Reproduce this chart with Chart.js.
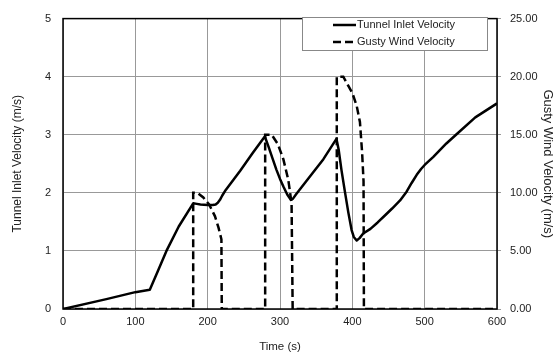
<!DOCTYPE html>
<html>
<head>
<meta charset="utf-8">
<script src="https://cdn.jsdelivr.net/npm/chart.js@4"></script>
<style>
  html, body { margin: 0; padding: 0; background: #fff; }
  #wrap { width: 560px; height: 354px; }
</style>
</head>
<body>
<div id="wrap"><canvas id="lineChart"></canvas></div>
<script>
// time (s) and tunnel inlet velocity (m/s)
var inletTime = [0, 60, 100, 120, 130, 143, 160, 180, 185, 190, 200, 207, 211, 214, 217, 220, 225, 245, 262, 279,
    284, 290, 295, 300, 305, 310, 315, 318, 322, 340, 360, 378,
    381, 385, 390, 394.5, 399, 402, 406, 410, 415, 425, 435, 445, 455, 466, 475, 482, 489, 495, 500, 512, 530, 546, 570, 600];
var inletVel = [0, 0.17, 0.29, 0.33, 0.62, 1.0, 1.42, 1.82, 1.81, 1.80, 1.79, 1.79, 1.80, 1.83, 1.88, 1.95, 2.05, 2.38, 2.68, 2.97,
    2.80, 2.58, 2.40, 2.24, 2.10, 1.97, 1.88, 1.90, 1.97, 2.26, 2.58, 2.93,
    2.75, 2.39, 2.00, 1.66, 1.36, 1.24, 1.18, 1.22, 1.30, 1.38, 1.49, 1.61, 1.73, 1.87, 2.02, 2.17, 2.31, 2.41, 2.48, 2.62, 2.85, 3.03, 3.30, 3.54];

// gusty wind velocity (m/s) on the right axis
var gustTime = [0, 180, 180, 186, 194, 202, 210, 215, 219, 219.5, 279.5, 279.5, 288.5, 297, 304.6, 311.5, 316, 317.5, 378.5, 378.5, 387.5, 394.5, 400, 406, 410.5, 413.5, 415.5, 416, 600];
var gustVel = [0, 0, 10, 10, 9.6, 9.0, 8.0, 7.0, 6.0, 0, 0, 15, 15, 14.2, 12.9, 11.1, 9.1, 0, 0, 20, 20, 19.2, 18.6, 17.5, 16.1, 13.5, 11, 0, 0];

var seriesNames = ['Tunnel Inlet Velocity', 'Gusty Wind Velocity'];

function pairs(xs, ys) {
    return xs.map(function(x, i) { return { x: x, y: ys[i] }; });
}

var FONT = 'Liberation Sans, Arial, sans-serif';

// frame round the plot plus the boxed legend in the top right corner
var framePlugin = {
    id: 'frame',
    afterDraw: function(chart) {
        var ctx = chart.ctx, a = chart.chartArea;
        ctx.save();
        ctx.strokeStyle = '#000';
        ctx.lineWidth = 1.5;
        ctx.strokeRect(a.left, a.top, a.right - a.left, a.bottom - a.top);

        var bx = 302, by = 17, bw = 185, bh = 33;
        ctx.fillStyle = '#fff';
        ctx.fillRect(bx, by, bw, bh);
        ctx.strokeStyle = '#888';
        ctx.lineWidth = 1;
        ctx.strokeRect(bx + 0.5, by + 0.5, bw, bh);

        ctx.font = '11px ' + FONT;
        ctx.fillStyle = '#222';
        ctx.textBaseline = 'middle';
        chart.data.datasets.forEach(function(ds, i) {
            var ly = by + 8 + i * 17;
            ctx.strokeStyle = '#000';
            ctx.lineWidth = 2.5;
            ctx.setLineDash(ds.borderDash || []);
            ctx.beginPath();
            ctx.moveTo(333, ly);
            ctx.lineTo(356, ly);
            ctx.stroke();
            ctx.setLineDash([]);
            ctx.fillText(ds.label, 357, ly);
        });
        ctx.restore();
    }
};

var ctx = document.getElementById('lineChart').getContext('2d');
var chart = new Chart(ctx, {
    type: 'line',
    data: {
        datasets: [
            {
                label: seriesNames[0],
                data: pairs(inletTime, inletVel),
                borderColor: '#000',
                borderWidth: 2.5,
                pointRadius: 0,
                tension: 0,
                borderJoinStyle: 'round',
                yAxisID: 'y'
            },
            {
                label: seriesNames[1],
                data: pairs(gustTime, gustVel),
                borderColor: '#000',
                borderWidth: 2.5,
                borderDash: [8, 4],
                pointRadius: 0,
                tension: 0,
                yAxisID: 'y2'
            }
        ]
    },
    options: {
        responsive: true,
        maintainAspectRatio: false,
        animation: false,
        layout: { padding: { top: 11 } },
        plugins: {
            legend: { display: false },
            tooltip: { enabled: false }
        },
        scales: {
            x: {
                type: 'linear',
                min: 0,
                max: 600,
                ticks: { stepSize: 100, color: '#222', font: { family: FONT, size: 11 }, padding: 6 },
                grid: { color: '#999', lineWidth: 1, drawTicks: false },
                border: { display: false },
                title: { display: true, text: 'Time (s)', color: '#222', font: { family: FONT, size: 11.5 }, padding: { top: 3, bottom: 0 } },
                afterFit: function(s) { s.height = 45; }
            },
            y: {
                min: 0,
                max: 5,
                ticks: { stepSize: 1, color: '#222', font: { family: FONT, size: 11 }, padding: 12 },
                grid: { color: '#999', lineWidth: 1, drawTicks: false },
                border: { display: false },
                title: { display: true, text: 'Tunnel Inlet Velocity (m/s)', color: '#222', font: { family: FONT, size: 12 }, padding: { top: 10, bottom: 0 } },
                afterFit: function(s) { s.width = 63; }
            },
            y2: {
                position: 'right',
                min: 0,
                max: 25,
                ticks: {
                    stepSize: 5,
                    color: '#222',
                    font: { family: FONT, size: 11 },
                    padding: 9,
                    callback: function(v) { return v.toFixed(2); }
                },
                grid: { drawOnChartArea: false, color: '#999', tickLength: 4 },
                border: { display: false },
                title: { display: true, text: 'Gusty Wind Velocity (m/s)', color: '#222', font: { family: FONT, size: 13 }, padding: { top: 5, bottom: 0 } },
                afterFit: function(s) { s.width = 63; }
            }
        }
    },
    plugins: [framePlugin]
});
</script>
</body>
</html>
